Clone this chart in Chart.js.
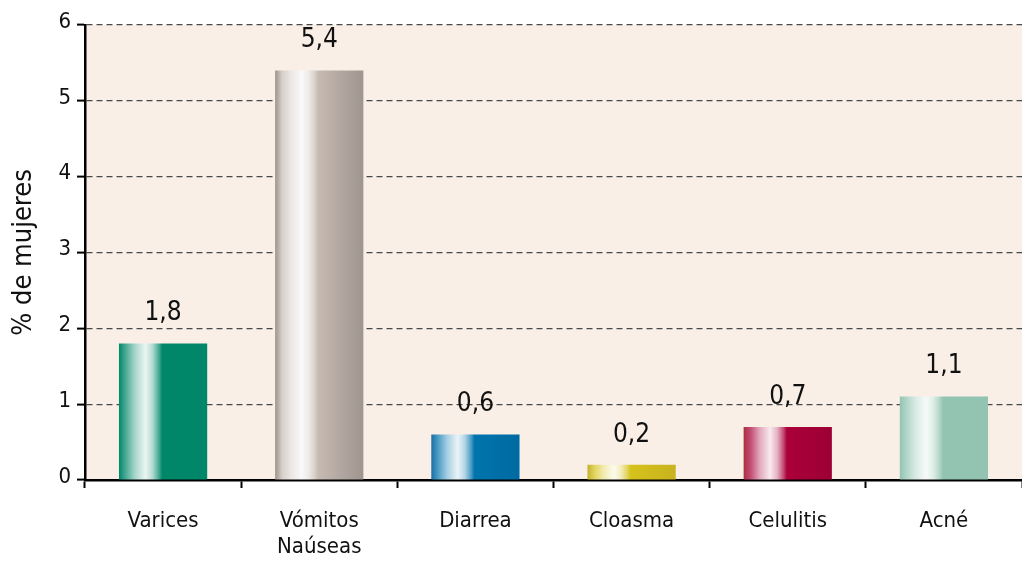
<!DOCTYPE html>
<html>
<head>
<meta charset="utf-8">
<script src="https://cdn.jsdelivr.net/npm/chart.js@4/dist/chart.umd.min.js"></script>
<style>
  html, body { margin: 0; padding: 0; background: #fff; }
  #wrap { width: 1022px; height: 563px; position: relative; }
</style>
</head>
<body>
<div id="wrap"><canvas id="chart"></canvas></div>
<script>
// Chart data
const categories = ['Varices', ['Vómitos', 'Naúseas'], 'Diarrea', 'Cloasma', 'Celulitis', 'Acné'];
const values = [1.8, 5.4, 0.6, 0.2, 0.7, 1.1];
const yTicks = [0, 1, 2, 3, 4, 5, 6];
// base colour / left-edge colour / right-edge colour of each bar
const barColors = ['#00876a', '#c6bab2', '#0074ad', '#d6c21b', '#ab003a', '#92c4b1'];
const barLeftColors = ['#00876a', '#9d938d', '#1a6fa5', '#c4b02a', '#a8303f', '#92c4b1'];
const barEdgeColors = ['#00876a', '#9f958f', '#006aa2', '#c8b21f', '#9c0034', '#92c4b1'];

const FONT = "'Liberation Sans Narrow', 'DejaVu Sans Condensed', sans-serif";
const BAR_PCT = 0.565;

function mix(hex, t) {
    const n = parseInt(hex.slice(1), 16);
    const r = (n >> 16) & 255, g = (n >> 8) & 255, b = n & 255;
    const m = c => Math.round(c + (255 - c) * t);
    return `rgb(${m(r)}, ${m(g)}, ${m(b)})`;
}

// cylinder-like shading across each bar
function barGradient(ctx) {
    const chart = ctx.chart;
    const i = ctx.dataIndex;
    const base = barColors[i];
    const xScale = chart.scales.x;
    if (!chart.chartArea || !xScale || i === undefined) return base;
    const cx = xScale.getPixelForValue(i);
    const half = (xScale.width / categories.length) * BAR_PCT / 2;
    const g = chart.ctx.createLinearGradient(cx - half, 0, cx + half, 0);
    g.addColorStop(0, barLeftColors[i]);
    g.addColorStop(0.08, mix(base, 0.3));
    g.addColorStop(0.18, mix(base, 0.65));
    g.addColorStop(0.3, mix(base, 0.92));
    g.addColorStop(0.38, mix(base, 0.7));
    g.addColorStop(0.45, mix(base, 0.3));
    g.addColorStop(0.49, base);
    g.addColorStop(1, barEdgeColors[i]);
    return g;
}

const plotBackground = {
    id: 'plotBackground',
    beforeDraw(chart) {
        const { ctx, chartArea } = chart;
        ctx.save();
        ctx.fillStyle = '#f9efe6';
        ctx.fillRect(chartArea.left, chartArea.top, chartArea.right - chartArea.left, chartArea.bottom - chartArea.top);
        ctx.restore();
    }
};

const valueLabels = {
    id: 'valueLabels',
    afterDatasetsDraw(chart) {
        const ctx = chart.ctx;
        const meta = chart.getDatasetMeta(0);
        ctx.save();
        ctx.fillStyle = '#111';
        ctx.font = `26px ${FONT}`;
        ctx.textAlign = 'center';
        ctx.textBaseline = 'middle';
        meta.data.forEach((bar, i) => {
            ctx.fillText(values[i].toFixed(1).replace('.', ','), bar.x, bar.y - 30);
        });
        ctx.restore();
    }
};

new Chart(document.getElementById('chart'), {
    type: 'bar',
    data: {
        labels: categories,
        datasets: [{
            data: values,
            backgroundColor: barGradient,
            borderWidth: 0,
            barPercentage: BAR_PCT,
            categoryPercentage: 1
        }]
    },
    options: {
        responsive: true,
        maintainAspectRatio: false,
        animation: false,
        layout: { padding: { top: 25, right: 0, left: 0, bottom: 0 } },
        plugins: {
            legend: { display: false },
            tooltip: { enabled: false }
        },
        scales: {
            x: {
                afterFit(scale) { scale.height = 83; },
                grid: {
                    drawOnChartArea: false,
                    drawTicks: true,
                    tickLength: 8,
                    tickColor: '#000',
                    tickWidth: 2,
                    offset: true
                },
                border: { color: '#000', width: 2.5 },
                ticks: {
                    color: '#111',
                    font: { family: FONT, size: 22 },
                    padding: 20,
                    maxRotation: 0
                }
            },
            y: {
                min: 0,
                max: 6,
                afterFit(scale) { scale.width = 85; },
                afterBuildTicks(scale) { scale.ticks = yTicks.map(v => ({ value: v })); },
                grid: {
                    color: '#4a4a4a',
                    lineWidth: 1.2,
                    tickColor: '#000',
                    tickWidth: 2,
                    tickLength: 8,
                    tickBorderDash: []
                },
                border: { color: '#000', width: 2.5, dash: [6, 4] },
                ticks: {
                    color: '#111',
                    font: { family: FONT, size: 22 },
                    padding: 6,
                    labelOffset: -3
                },
                title: {
                    display: true,
                    text: '% de mujeres',
                    color: '#111',
                    font: { family: FONT, size: 27 },
                    padding: 8
                }
            }
        }
    },
    plugins: [plotBackground, valueLabels]
});
</script>
</body>
</html>
